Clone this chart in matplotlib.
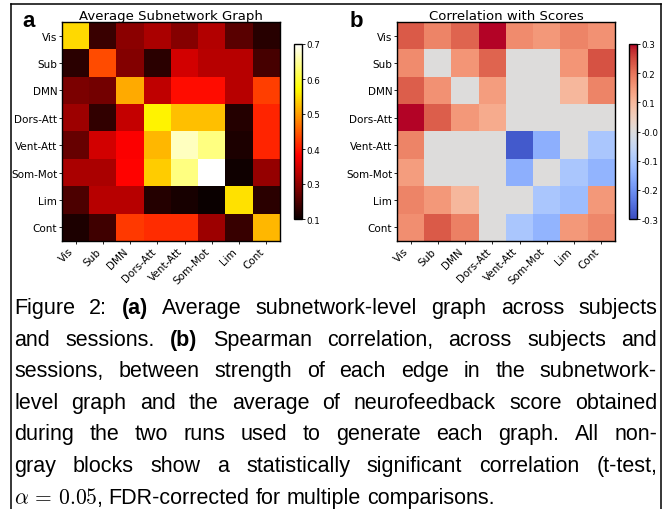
import numpy as np
import matplotlib
matplotlib.use("Agg")
from matplotlib import pyplot as plt
from matplotlib.lines import Line2D

labels = ['Vis', 'Sub', 'DMN', 'Dors-Att', 'Vent-Att', 'Som-Mot', 'Lim', 'Cont']

# average subnetwork-level graph (rows/cols in label order)
avg_graph = np.array([
    [0.545, 0.236, 0.297, 0.320, 0.293, 0.325, 0.260, 0.222],
    [0.225, 0.440, 0.290, 0.225, 0.350, 0.330, 0.330, 0.245],
    [0.285, 0.280, 0.510, 0.335, 0.392, 0.392, 0.330, 0.430],
    [0.310, 0.230, 0.340, 0.565, 0.525, 0.525, 0.220, 0.410],
    [0.270, 0.350, 0.380, 0.520, 0.667, 0.637, 0.215, 0.410],
    [0.320, 0.320, 0.385, 0.535, 0.637, 0.700, 0.205, 0.305],
    [0.250, 0.330, 0.330, 0.220, 0.210, 0.200, 0.550, 0.225],
    [0.215, 0.240, 0.425, 0.415, 0.415, 0.310, 0.235, 0.520],
])

# correlation with scores, 0 = not significant (gray)
score_corr = np.array([
    [0.230, 0.180, 0.220, 0.300, 0.170, 0.150, 0.180, 0.160],
    [0.170, 0.000, 0.155, 0.220, 0.000, 0.000, 0.155, 0.240],
    [0.225, 0.160, 0.000, 0.145, 0.000, 0.000, 0.100, 0.180],
    [0.300, 0.225, 0.150, 0.120, 0.000, 0.000, 0.000, 0.000],
    [0.180, 0.000, 0.000, 0.000, -0.280, -0.150, 0.000, -0.100],
    [0.145, 0.000, 0.000, 0.000, -0.150, 0.000, -0.100, -0.140],
    [0.180, 0.150, 0.100, 0.000, 0.000, -0.100, -0.120, 0.150],
    [0.165, 0.230, 0.185, 0.000, -0.100, -0.140, 0.150, 0.175],
])

avg_ticks = [0.2, 0.3, 0.4, 0.5, 0.6, 0.7]
avg_ticklabels = ['0.1', '0.3', '0.4', '0.5', '0.6', '0.7']
corr_ticks = [0.3, 0.2, 0.1, 0.0, -0.1, -0.2, -0.3]
corr_ticklabels = ['0.3', '0.2', '0.1', '-0.0', '-0.1', '-0.2', '-0.3']

caption = [
    "Figure 2: **(a)** Average subnetwork-level graph across subjects",
    "and sessions. **(b)** Spearman correlation, across subjects and",
    "sessions, between strength of each edge in the subnetwork-",
    "level graph and the average of neurofeedback score obtained",
    "during the two runs used to generate each graph. All non-",
    "gray blocks show a statistically significant correlation (t-test,",
    r"$\alpha\,=\,0.05$, FDR-corrected for multiple comparisons.",
]

plt.rcParams['mathtext.fontset'] = 'cm'

W, H = 665, 510
fig = plt.figure(figsize=(W / 100, H / 100), dpi=100)


def px(x0, y0, x1, y1):
    # pixel box, top-left origin -> figure fraction rect
    return [x0 / W, 1 - y1 / H, (x1 - x0) / W, (y1 - y0) / H]


def heat(box, cbox, data, cmap, vmin, vmax, title, letter, lx, ticks, ticklabels):
    ax = fig.add_axes(px(*box))
    im = ax.imshow(data, cmap=cmap, vmin=vmin, vmax=vmax, aspect='auto',
                   interpolation='nearest')
    ax.set_xticks(range(len(labels)))
    ax.set_yticks(range(len(labels)))
    ax.set_xticklabels(labels, rotation=45, ha='right', fontsize=7.5)
    ax.set_yticklabels(labels, fontsize=7.5)
    ax.tick_params(length=2.5, width=0.6, pad=1)
    ax.set_title(title, fontsize=9.5, pad=2)
    for s in ax.spines.values():
        s.set_linewidth(1.0)
    cax = fig.add_axes(px(*cbox))
    cb = fig.colorbar(im, cax=cax, ticks=ticks)
    cb.ax.set_yticklabels(ticklabels, fontsize=6.3)
    cb.ax.tick_params(length=2, width=0.6, pad=1)
    cb.outline.set_linewidth(1.0)
    fig.text(lx / W, 1 - 27 / H, letter, fontsize=16, weight='bold',
             family='Liberation Sans')


heat((62, 23, 280, 242), (294, 45, 302, 220), avg_graph, 'hot', 0.2, 0.7,
     'Average Subnetwork Graph', 'a', 22, avg_ticks, avg_ticklabels)
heat((397, 23, 615, 242), (629, 45, 637, 220), score_corr, 'coolwarm', -0.3, 0.3,
     'Correlation with Scores', 'b', 350, corr_ticks, corr_ticklabels)

# page frame
frame = dict(color='black', linewidth=1.1, transform=fig.transFigure)
fig.add_artist(Line2D([10.5 / W, 10.5 / W], [0, 1 - 5 / H], **frame))
fig.add_artist(Line2D([660.5 / W, 660.5 / W], [0, 1 - 5 / H], **frame))
fig.add_artist(Line2D([10.5 / W, 660.5 / W], [1 - 5 / H, 1 - 5 / H], **frame))

# justified caption
renderer = fig.canvas.get_renderer()
fs = 15.5
left, right = 14, 657
first_base, pitch = 314, 31.6
space = 0.278 * fs * 100 / 72
for i, line in enumerate(caption):
    y = 1 - (first_base + i * pitch) / H
    items = []
    for tok in line.split():
        bold = tok.startswith('**')
        t = fig.text(0, y, tok.replace('**', ''), fontsize=fs,
                     family='Liberation Sans', weight='bold' if bold else 'normal',
                     va='baseline')
        items.append((t, t.get_window_extent(renderer).width))
    total = sum(w for _, w in items)
    gap = (right - left - total) / (len(items) - 1) if i < len(caption) - 1 else space
    x = left
    for t, w in items:
        t.set_x(x / W)
        x += w + gap

fig.savefig('out.png', dpi=100)
